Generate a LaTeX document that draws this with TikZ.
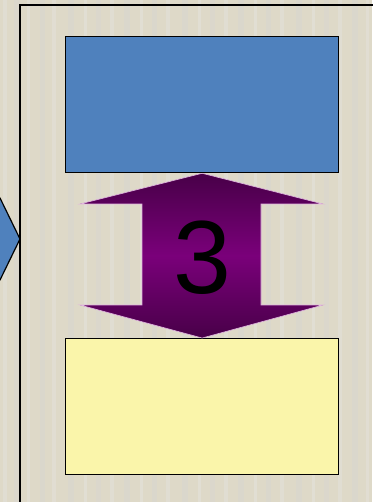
\documentclass[tikz,border=0pt]{standalone}
\usepackage{fontspec}
\setmainfont{Liberation Sans}
\begin{document}
\begin{tikzpicture}[x=1pt,y=-1pt,
  box/.style={draw=black,line width=1.3pt,minimum width=273pt,minimum height=136pt,inner sep=0pt},
  bgstripe/.style={fill=#1,draw=none}]
\useasboundingbox (0,0) rectangle (372,502);
% background
\fill[fill={rgb,255:red,222;green,217;blue,200}] (0,0) rectangle (372,502);
\foreach \x/\w/\c in {3/4/230,14/6/214,27/3/232,40/5/213,52/4/231,68/6/212,84/3/233,96/5/214,110/4/229,124/6/213,140/3/232,152/5/213,166/4/230,182/6/212,198/3/233,210/5/214,224/4/229,238/6/213,254/3/232,266/5/213,280/4/230,296/6/212,312/3/233,324/5/214,338/4/229,352/6/213,366/3/231}
  \fill[fill={rgb,255:red,\c;green,\c;blue,\c},opacity=0.35] (\x,0) rectangle ++(\w,502);
% frame
\draw[line width=1.3pt] (20,520) -- (20,5) -- (380,5);
% left chevron
\draw[fill={rgb,255:red,79;green,129;blue,189},line width=1.2pt] (-10,198) -- (0,198) -- (20,239) -- (0,280) -- (-10,280);
% boxes
\node[box,fill={rgb,255:red,79;green,129;blue,189},anchor=north west] (blue) at (65,36) {};
\node[box,fill={rgb,255:red,250;green,245;blue,170},anchor=north west] (yellow) at (65,338) {};
% double arrow
\shade[top color={rgb,255:red,72;green,0;blue,72},bottom color={rgb,255:red,72;green,0;blue,72},middle color={rgb,255:red,122;green,0;blue,122},draw={rgb,255:red,225;green,180;blue,225},line width=0.6pt]
  (blue.south) -- (323,204) -- (261,204) -- (261,305) -- (323,305) -- (yellow.north) -- (80,305) -- (142,305) -- (142,204) -- (80,204) -- cycle;
\node[font=\fontsize{104}{104}\selectfont,inner sep=0pt] (num) at (202,258) {3};
\end{tikzpicture}
\end{document}
